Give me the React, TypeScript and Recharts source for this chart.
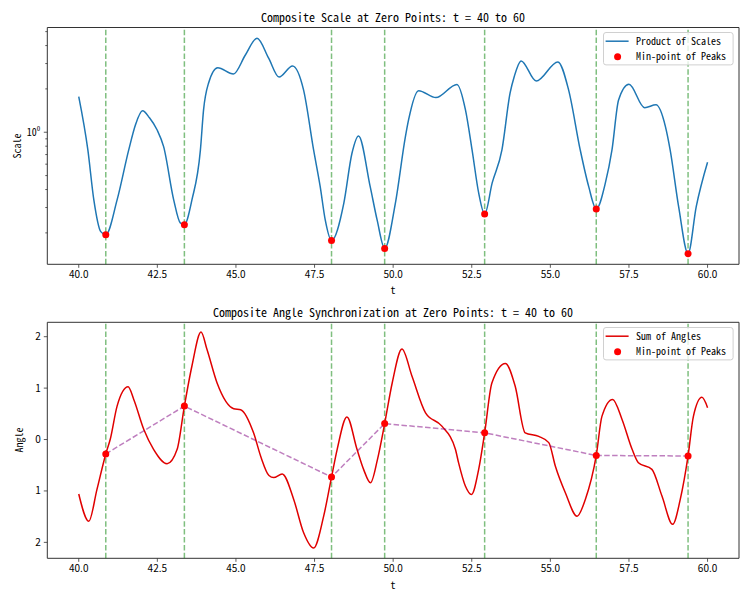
import React from 'react';
import { ComposedChart, Line, Scatter, XAxis, YAxis, ReferenceLine, ReferenceArea, Legend } from 'recharts';

// ---------- data ----------
const zeroPoints = [40.86, 43.36, 48.04, 49.73, 52.91, 56.46, 59.38];
const scaleAtZeros = [0.194, 0.228, 0.177, 0.156, 0.27, 0.293, 0.1435];
const angleAtZeros = [-0.28, 0.65, -0.73, 0.31, 0.13, -0.31, -0.32];

const scaleT = [
  40.0, 40.29, 40.48, 40.7, 40.86, 41.22, 41.59, 41.8, 42.03, 42.25, 42.49, 42.7, 43.02, 43.23, 43.36,
  43.6, 43.87, 43.97, 44.13, 44.42, 44.92, 45.3, 45.67, 46.04, 46.37, 46.8, 47.15, 47.47, 47.68, 47.84,
  48.04, 48.43, 48.69, 48.9, 49.27, 49.49, 49.73, 50.07, 50.39, 50.49, 50.81, 51.36, 52.03, 52.3, 52.51,
  52.72, 52.91, 53.15, 53.46, 53.72, 53.85, 54.07, 54.55, 55.24, 55.58, 55.95, 56.22, 56.46, 56.75, 56.96,
  57.17, 57.5, 58.0, 58.36, 58.66, 58.81, 59.08, 59.38, 59.64, 60.0,
];
const scaleV = [
  1.77, 0.754, 0.339, 0.204, 0.194, 0.339, 0.754, 1.12, 1.41, 1.26, 1.04, 0.794, 0.339, 0.2345, 0.228,
  0.339, 0.754, 1.43, 2.2, 2.81, 2.54, 3.44, 4.5, 3.27, 2.42, 2.89, 1.97, 0.754, 0.419, 0.246,
  0.177, 0.321, 0.715, 0.943, 0.419, 0.246, 0.156, 0.321, 0.932, 1.217, 1.945, 1.74, 2.15, 1.43, 0.754,
  0.379, 0.27, 0.4446, 0.754, 1.875, 2.43, 3.13, 2.27, 3.08, 1.97, 0.754, 0.419, 0.293, 0.4446, 0.754,
  1.676, 2.154, 1.48, 1.55, 1.094, 0.754, 0.304, 0.1435, 0.304, 0.619,
];

const angleT = [
  40.0, 40.32, 40.58, 40.86, 41.0, 41.22, 41.57, 41.75, 42.07, 42.38, 42.81, 43.13, 43.36, 43.6, 43.89,
  44.08, 44.4, 44.93, 45.15, 45.56, 45.8, 46.05, 46.2, 46.47, 46.84, 47.15, 47.47, 47.79, 48.04, 48.22,
  48.53, 48.85, 49.06, 49.28, 49.5, 49.73, 49.97, 50.28, 50.6, 51.03, 51.55, 51.98, 52.08, 52.3, 52.49,
  52.72, 52.91, 53.14, 53.57, 53.88, 54.2, 54.63, 54.95, 55.16, 55.48, 55.85, 56.11, 56.46, 56.64, 56.98,
  57.28, 57.6, 57.8, 58.23, 58.55, 58.89, 59.13, 59.38, 59.55, 59.82, 60.0,
];
const angleV = [
  -1.06, -1.59, -0.97, -0.28, 0.0, 0.65, 1.025, 0.78, 0.195, -0.19, -0.47, -0.19, 0.65, 1.43, 2.09,
  1.75, 1.1, 0.6, 0.58, 0.13, -0.35, -0.7, -0.74, -0.67, -1.17, -1.81, -2.11, -1.49, -0.73, -0.19,
  0.44, -0.19, -0.58, -0.84, -0.39, 0.31, 1.1, 1.76, 1.23, 0.52, 0.26, -0.19, -0.45, -0.91, -1.07,
  -0.58, 0.13, 1.1, 1.48, 1.04, 0.13, 0.06, -0.06, -0.52, -1.04, -1.49, -1.17, -0.31, 0.45, 0.78,
  0.39, -0.19, -0.45, -0.58, -1.1, -1.65, -1.17, -0.32, 0.45, 0.82, 0.62,
];

const xTicks = [40, 42.5, 45, 47.5, 50, 52.5, 55, 57.5, 60];
const scaleTicks = [0.2, 0.3, 0.4, 0.5, 0.6, 0.7, 0.8, 0.9, 1, 2, 3, 4, 5];
const angleTicks = [-2, -1, 0, 1, 2];

const topTitle = 'Composite Scale at Zero Points: t = 40 to 60';
const bottomTitle = 'Composite Angle Synchronization at Zero Points: t = 40 to 60';
const topLineName = 'Product of Scales';
const bottomLineName = 'Sum of Angles';
const markerName = 'Min-point of Peaks';
const xLabel = 't';
const topYLabel = 'Scale';
const bottomYLabel = 'Angle';

const scaleData = scaleT.map((t, i) => ({ t, v: scaleV[i] }));
const angleData = angleT.map((t, i) => ({ t, v: angleV[i] }));
const scaleMarks = zeroPoints.map((t, i) => ({ t, v: scaleAtZeros[i] }));
const angleMarks = zeroPoints.map((t, i) => ({ t, v: angleAtZeros[i] }));

// ---------- style ----------
const FONT = "'Noto Sans CJK JP', 'DejaVu Sans', sans-serif";
const FEAT = '"hwid"';
const AXIS_X = 47.3;
const X_DOMAIN: [number, number] = [39, 61];
const SCALE_DOMAIN: [number, number] = [0.121, 5.34];
const ANGLE_DOMAIN: [number, number] = [-2.31, 2.28];
const SPINE = '#333';

const textStyle: React.CSSProperties = { fontFamily: FONT, fontFeatureSettings: FEAT };

function ScaleTick(props: any) {
  const { y, payload } = props;
  const major = payload.value === 1;
  return (
    <g>
      <line x1={AXIS_X} x2={AXIS_X - (major ? 3.5 : 2)} y1={y} y2={y} stroke={SPINE} strokeWidth={0.8} />
      {major && (
        <text x={AXIS_X - 7} y={y + 3.5} textAnchor="end" fontSize={10} fill="#000" style={textStyle}>
          10<tspan dy={-4.5} fontSize={7}>0</tspan>
        </text>
      )}
    </g>
  );
}

function LegendBox({ color, label }: { color: string; label: string }) {
  const w = 130.6;
  const h = 33.4;
  return (
    <svg width={w} height={h} style={{ display: 'block', overflow: 'visible' }}>
      <rect x={0.5} y={0.5} width={w - 1} height={h - 1} rx={2.5} fill="rgba(255,255,255,0.8)" stroke="#d0d0d0" />
      <line x1={2.6} x2={25.6} y1={9.2} y2={9.2} stroke={color} strokeWidth={1.5} />
      <circle cx={14.6} cy={24.8} r={3.5} fill="red" />
      <text x={33} y={12.6} fontSize={10} fill="#000" style={textStyle}>{label}</text>
      <text x={33} y={28.2} fontSize={10} fill="#000" style={textStyle}>{markerName}</text>
    </svg>
  );
}

const dot = (p: any) => <circle cx={p.cx} cy={p.cy} r={3.5} fill="red" />;

function Label({ text, x, y, size, rotate }: { text: string; x: number; y: number; size: number; rotate?: boolean }) {
  return (
    <div
      style={{
        position: 'absolute',
        left: x,
        top: y,
        transform: `translate(-50%, -50%)${rotate ? ' rotate(-90deg)' : ''}`,
        fontFamily: FONT,
        fontFeatureSettings: FEAT,
        fontSize: size,
        lineHeight: 1,
        whiteSpace: 'nowrap',
        color: '#000',
      }}
    >
      {text}
    </div>
  );
}

const xTickStyle = { fontSize: 10, fill: '#000', fontFamily: FONT, fontFeatureSettings: FEAT };

export default function App() {
  return (
    <div style={{ position: 'absolute', left: 0, top: 0, width: 750, height: 600, background: '#fff', overflow: 'hidden' }}>
      {/* top chart */}
      <div style={{ position: 'absolute', left: 0, top: 0 }}>
        <ComposedChart width={750} height={300} margin={{ top: 27.5, right: 11, left: 0, bottom: 0 }}>
          <XAxis
            dataKey="t"
            type="number"
            domain={X_DOMAIN}
            ticks={xTicks}
            interval={0}
            allowDataOverflow
            tickFormatter={(v: number) => v.toFixed(1)}
            tick={xTickStyle}
            tickSize={3.5}
            tickMargin={3}
            tickLine={{ stroke: SPINE, strokeWidth: 0.8 }}
            axisLine={false}
            height={35.7}
          />
          <YAxis
            dataKey="v"
            type="number"
            scale="log"
            domain={SCALE_DOMAIN}
            allowDataOverflow
            ticks={scaleTicks}
            interval={0}
            tick={<ScaleTick />}
            tickLine={false}
            axisLine={false}
            width={AXIS_X}
          />
          {zeroPoints.map((z) => (
            <ReferenceLine key={z} x={z} stroke="green" strokeOpacity={0.5} strokeWidth={1.5} strokeDasharray="5.5 2.4" />
          ))}
          <Scatter data={scaleMarks} dataKey="v" fill="red" shape={dot} isAnimationActive={false} />
          <Line data={scaleData} dataKey="v" type="monotone" stroke="#1f77b4" strokeWidth={1.5} dot={false} isAnimationActive={false} />
          <ReferenceArea x1={X_DOMAIN[0]} x2={X_DOMAIN[1]} y1={SCALE_DOMAIN[0]} y2={SCALE_DOMAIN[1]} fill="none" stroke={SPINE} strokeWidth={1} ifOverflow="visible" />
          <Legend
            layout="horizontal"
            align="center"
            verticalAlign="middle"
            wrapperStyle={{ left: 602.7, top: 32.3, width: 131, height: 34 }}
            content={() => <LegendBox color="#1f77b4" label={topLineName} />}
          />
        </ComposedChart>
      </div>

      {/* bottom chart */}
      <div style={{ position: 'absolute', left: 0, top: 300 }}>
        <ComposedChart width={750} height={300} margin={{ top: 22.3, right: 11, left: 0, bottom: 0 }}>
          <XAxis
            dataKey="t"
            type="number"
            domain={X_DOMAIN}
            ticks={xTicks}
            interval={0}
            allowDataOverflow
            tickFormatter={(v: number) => v.toFixed(1)}
            tick={xTickStyle}
            tickSize={3.5}
            tickMargin={3}
            tickLine={{ stroke: SPINE, strokeWidth: 0.8 }}
            axisLine={false}
            height={41.7}
          />
          <YAxis
            dataKey="v"
            type="number"
            domain={ANGLE_DOMAIN}
            allowDataOverflow
            ticks={angleTicks}
            interval={0}
            tickFormatter={(v: number) => String(Math.abs(v))}
            tick={xTickStyle}
            tickSize={3.5}
            tickMargin={3}
            tickLine={{ stroke: SPINE, strokeWidth: 0.8 }}
            axisLine={false}
            width={AXIS_X}
          />
          {zeroPoints.map((z) => (
            <ReferenceLine key={z} x={z} stroke="green" strokeOpacity={0.5} strokeWidth={1.5} strokeDasharray="5.5 2.4" />
          ))}
          <Scatter data={angleMarks} dataKey="v" fill="red" shape={dot} isAnimationActive={false} />
          <Line data={angleData} dataKey="v" type="monotone" stroke="#e00000" strokeWidth={1.5} dot={false} isAnimationActive={false} />
          <Line data={angleMarks} dataKey="v" type="linear" stroke="purple" strokeOpacity={0.5} strokeWidth={1.5} strokeDasharray="5.5 2.4" dot={false} isAnimationActive={false} />
          <ReferenceArea x1={X_DOMAIN[0]} x2={X_DOMAIN[1]} y1={ANGLE_DOMAIN[0]} y2={ANGLE_DOMAIN[1]} fill="none" stroke={SPINE} strokeWidth={1} ifOverflow="visible" />
          <Legend
            layout="horizontal"
            align="center"
            verticalAlign="middle"
            wrapperStyle={{ left: 602.7, top: 27.3, width: 131, height: 34 }}
            content={() => <LegendBox color="#e00000" label={bottomLineName} />}
          />
        </ComposedChart>
      </div>

      <Label text={topTitle} x={393} y={16.7} size={12} />
      <Label text={bottomTitle} x={393} y={311.7} size={12} />
      <Label text={xLabel} x={393} y={290} size={10} />
      <Label text={xLabel} x={393} y={585} size={10} />
      <Label text={topYLabel} x={17} y={146} size={10} rotate />
      <Label text={bottomYLabel} x={19} y={440} size={10} rotate />
    </div>
  );
}
